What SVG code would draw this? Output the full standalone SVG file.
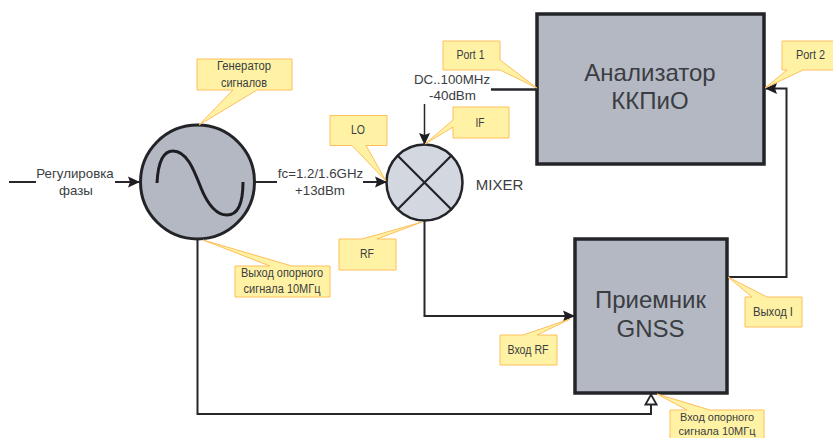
<svg xmlns="http://www.w3.org/2000/svg" width="833" height="438" viewBox="0 0 833 438">
<style>
text{font-family:"Liberation Sans",Arial,sans-serif;fill:#3a3d42;text-anchor:middle}
.l{font-size:13.3px}
.c{font-size:12px}
.b{font-size:24px}
.call{fill:#fff2a4;stroke:#ffbe5c;stroke-width:1;stroke-linejoin:miter}
.w{fill:none;stroke:#26262b;stroke-width:2}
.body{fill:#b3b8c3;stroke:#232428;stroke-width:3.5}
</style>
<defs>
<marker id="a" markerUnits="userSpaceOnUse" markerWidth="13" markerHeight="13" refX="12" refY="6.500" orient="auto"><path d="M0 1L12 6.500L0 12L2 6.500Z" fill="#1e1e22"/></marker>
<marker id="o" markerUnits="userSpaceOnUse" markerWidth="14" markerHeight="14" refX="11" refY="7" orient="auto"><path d="M1 1.500L11 7L1 12.500Z" fill="#fff" stroke="#26262b" stroke-width="1.800"/></marker>
</defs>
<rect width="833" height="438" fill="#fff"/>
<g id="connectors">
<path class="w" d="M9 182H36"/>
<path class="w" d="M115 182H140" marker-end="url(#a)"/>
<path class="w" d="M255 182H277"/>
<path class="w" d="M363 182H387" marker-end="url(#a)"/>
<path class="w" style="stroke-width:1.500" d="M424.500 104V145" marker-end="url(#a)"/>
<path class="w" style="stroke-width:2.500" d="M491 89.500H537"/>
<path class="w" d="M424.500 220V316H575" marker-end="url(#a)"/>
<path class="w" d="M197.500 238V414H651V394.500" marker-end="url(#o)"/>
<path class="w" d="M727 277H786.500V88.500H765" marker-end="url(#a)"/>
</g>
<g id="generator">
<circle cx="197.500" cy="182" r="57" fill="#b3b8c3" stroke="#232428" stroke-width="3"/>
<path d="M157 183C158 163 163 151 173 151C187 151 194 170 201 188C208 205 216 215 227 215C239 215 243 202 243 182" fill="none" stroke="#1e1e22" stroke-width="3"/>
</g>
<g id="mixer">
<circle cx="424.500" cy="182.500" r="38" fill="#d3d7df" stroke="#232428" stroke-width="2.500"/>
<path d="M397.500 155.500L451.500 209.500M451.500 155.500L397.500 209.500" stroke="#232428" stroke-width="2.200"/>
</g>
<g id="analyzer">
<rect class="body" x="537" y="14" width="227" height="150"/>
<text class="b" x="650" y="81">Анализатор</text>
<text class="b" x="650" y="109">ККПиО</text>
</g>
<g id="receiver">
<rect class="body" x="575" y="239" width="152" height="154"/>
<text class="b" x="650.500" y="308">Приемник</text>
<text class="b" x="650.500" y="337">GNSS</text>
</g>
<g id="labels">
<text class="l" x="75" y="178">Регулировка</text>
<text class="l" x="76" y="195">фазы</text>
<text class="l" x="320.500" y="178">fc=1.2/1.6GHz</text>
<text class="l" x="320" y="195">+13dBm</text>
<text class="l" x="452" y="84">DC..100MHz</text>
<text class="c" x="452.500" y="100" textLength="47" lengthAdjust="spacingAndGlyphs">-40dBm</text>
<text style="font-size:15px" x="499.500" y="190">MIXER</text>
</g>
<g id="callout-generator">
<path class="call" d="M197 59H292V90H257L199 125L233 90H197Z"/>
<text class="c" x="244" y="70" textLength="54" lengthAdjust="spacingAndGlyphs">Генератор</text>
<text class="c" x="244" y="87" textLength="46" lengthAdjust="spacingAndGlyphs">сигналов</text>
</g>
<g id="callout-lo">
<path class="call" d="M330 115.500H387V145.500H366L386 181L352 145.500H330Z"/>
<text class="c" x="358" y="134" textLength="14" lengthAdjust="spacingAndGlyphs">LO</text>
</g>
<g id="callout-if">
<path class="call" d="M453 107H509V138H453V127L425 144L453 120Z"/>
<text class="c" x="480" y="127" textLength="9" lengthAdjust="spacingAndGlyphs">IF</text>
</g>
<g id="callout-port1">
<path class="call" d="M443 41H500V60L537 88L500 70H443Z"/>
<text class="c" x="470.500" y="59" textLength="28" lengthAdjust="spacingAndGlyphs">Port 1</text>
</g>
<g id="callout-port2">
<path class="call" d="M782 41H834V70H803L765 88L787 70H782Z"/>
<text class="c" x="810.500" y="59" textLength="29" lengthAdjust="spacingAndGlyphs">Port 2</text>
</g>
<g id="callout-rf">
<path class="call" d="M339 239H362L422 222L377 239H396V270H339Z"/>
<text class="c" x="367" y="258" textLength="14" lengthAdjust="spacingAndGlyphs">RF</text>
</g>
<g id="callout-ref-out">
<path class="call" d="M235 266H270L203 240L292 266H330V297H235Z"/>
<text class="c" x="282" y="277" textLength="82" lengthAdjust="spacingAndGlyphs">Выход опорного</text>
<text class="c" x="282" y="293" textLength="77" lengthAdjust="spacingAndGlyphs">сигнала 10МГц</text>
</g>
<g id="callout-rf-in">
<path class="call" d="M500 335H523L570 319L537 335H557V365H500Z"/>
<text class="c" x="528" y="354" textLength="41" lengthAdjust="spacingAndGlyphs">Вход RF</text>
</g>
<g id="callout-out-i">
<path class="call" d="M745 297H752L728 277L767 297H802V327H745Z"/>
<text class="c" x="773" y="316" textLength="40" lengthAdjust="spacingAndGlyphs">Выход I</text>
</g>
<g id="callout-ref-in">
<path class="call" d="M670 410H687L657 394L710 410H764V440H670Z"/>
<text style="font-size:11px" x="717" y="421" textLength="74" lengthAdjust="spacingAndGlyphs">Вход опорного</text>
<text style="font-size:11px" x="717" y="434.500" textLength="77" lengthAdjust="spacingAndGlyphs">сигнала 10МГц</text>
</g>
</svg>
